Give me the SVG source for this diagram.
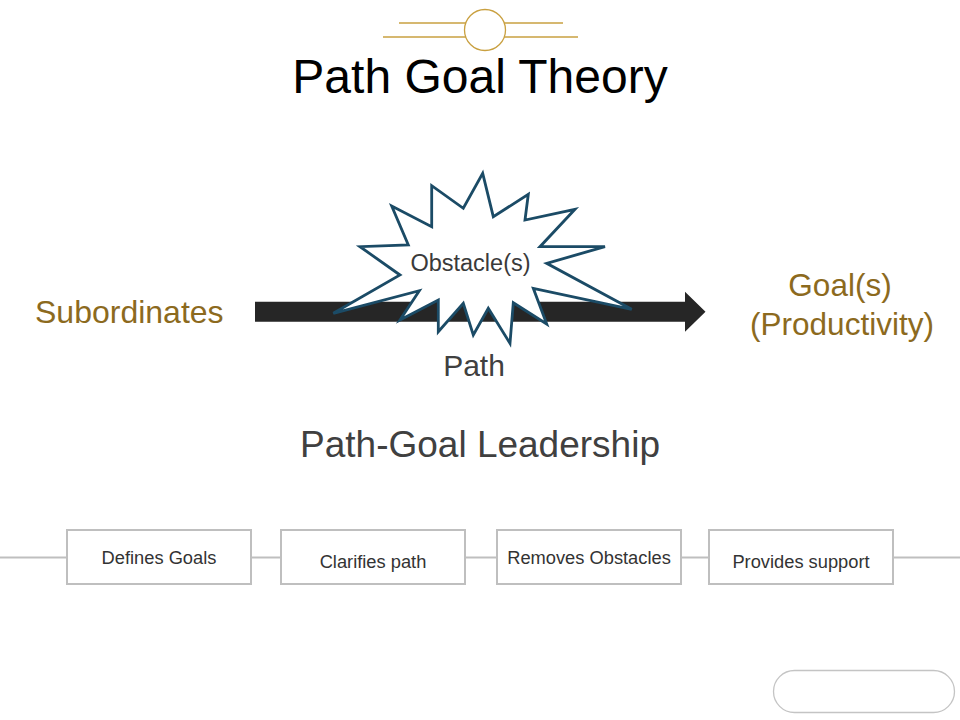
<svg xmlns="http://www.w3.org/2000/svg" width="960" height="720" viewBox="0 0 960 720">
<style>
text{font-family:"Liberation Sans",Arial,sans-serif}
.gold{fill:#8C6A1E;font-size:31.5px}
.dark{fill:#404040}
.box{fill:#fff;stroke:#BFBFBF;stroke-width:2}
.bt{fill:#333;font-size:18.3px;text-anchor:middle}
.deco{stroke:#C9A040;stroke-width:1.3;fill:none}
</style>
<rect width="960" height="720" fill="#fff"/>
<g id="decoration">
<line class="deco" x1="399" y1="23" x2="563" y2="23"/>
<line class="deco" x1="383" y1="37" x2="578" y2="37"/>
<circle cx="485" cy="30" r="20.5" fill="#fff" stroke="#C9A040" stroke-width="1.3"/>
</g>
<text x="480" y="93" font-size="48" fill="#000" text-anchor="middle">Path Goal Theory</text>
<g id="connectors">
<path d="M255,301.7 H685 V291.7 L705.5,311.7 L685,331.7 V321.7 H255 Z" fill="#262626"/>
<line x1="0" y1="557.5" x2="960" y2="557.5" stroke="#BFBFBF" stroke-width="2"/>
</g>
<g id="subordinates"><text class="gold" x="35" y="322.5" style="font-size:32px">Subordinates</text></g>
<g id="goals">
<text class="gold" x="840" y="296" text-anchor="middle">Goal(s)</text>
<text class="gold" x="842" y="335" text-anchor="middle">(Productivity)</text>
</g>
<g id="obstacles">
<polygon points="482.7,173.3 493.3,216.7 528.3,194.3 525,220 575,209.3 540,246.7 605,246.7 546.7,263.3 631.7,309.3 533.3,288.3 546.7,324 513.3,302.7 510,343.3 488.3,308.3 473.3,335 463.3,303.3 438.3,331.7 438.3,300 400,320 419.3,290.7 333.3,313.3 400,275 360,246.7 408.3,245 391.7,206 431.7,226.7 431.7,185.7 463.3,208.3" fill="#fff" stroke="#1B4B66" stroke-width="2.8" stroke-linejoin="miter"/>
<text x="470.5" y="270.5" font-size="23.5" fill="#3A3A3A" text-anchor="middle">Obstacle(s)</text>
</g>
<g id="path-label"><text x="474" y="376" font-size="30" class="dark" text-anchor="middle">Path</text></g>
<g id="leadership-title"><text x="480" y="457" font-size="37" class="dark" text-anchor="middle">Path-Goal Leadership</text></g>
<g id="box-defines-goals">
<rect class="box" x="67" y="530" width="184" height="54"/>
<text class="bt" x="159" y="563.5">Defines Goals</text>
</g>
<g id="box-clarifies-path">
<rect class="box" x="281" y="530" width="184" height="54"/>
<text class="bt" x="373" y="567.5">Clarifies path</text>
</g>
<g id="box-removes-obstacles">
<rect class="box" x="497" y="530" width="184" height="54"/>
<text class="bt" x="589" y="563.5">Removes Obstacles</text>
</g>
<g id="box-provides-support">
<rect class="box" x="709" y="530" width="184" height="54"/>
<text class="bt" x="801" y="567.5">Provides support</text>
</g>
<g id="rounded-panel">
<rect x="773.5" y="670.5" width="181" height="42" rx="21" fill="#fff" stroke="#C4C4C4" stroke-width="1.3"/>
</g>
</svg>
